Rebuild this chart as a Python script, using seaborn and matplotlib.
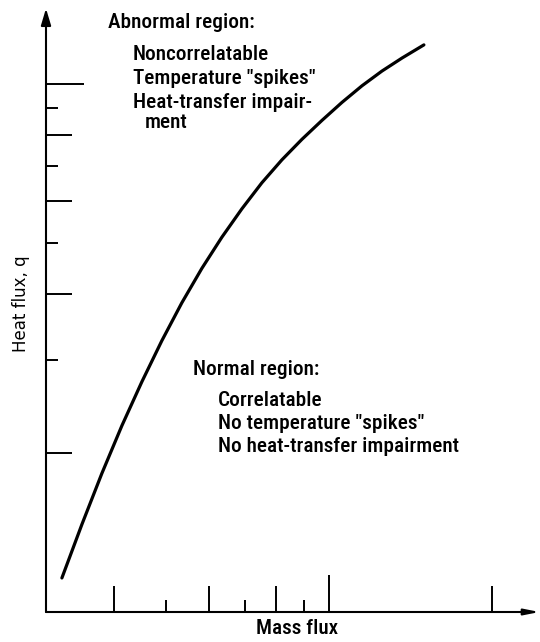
import matplotlib
matplotlib.use("Agg")
import matplotlib.pyplot as plt
import seaborn as sns
import pandas as pd

# Boundary curve between normal and abnormal heat-transfer regions
mass_flux = [3.21, 3.495, 3.805, 4.143, 4.511, 4.911, 5.348, 5.823, 6.340,
             6.904, 7.518, 8.186, 8.913, 9.707, 10.57, 11.51, 12.53, 13.65, 14.98]
heat_flux = [1.160, 1.465, 1.830, 2.253, 2.729, 3.264, 3.852, 4.475, 5.126,
             5.802, 6.501, 7.184, 7.855, 8.532, 9.229, 9.922, 10.58, 11.20, 11.86]

x_ticks_mid = [4, 6, 8, 10, 20]
x_ticks_short = [5, 7, 9]
y_ticks_mid = [2, 4, 6, 8, 10]
y_ticks_short = [3, 5, 7, 9]
long_tick = 10

abnormal_title = "Abnormal region:"
abnormal_lines = ["Noncorrelatable", 'Temperature "spikes"', "Heat-transfer impair-"]
abnormal_tail = "ment"
normal_title = "Normal region:"
normal_lines = ["Correlatable", 'No temperature "spikes"', "No heat-transfer impairment"]

sns.set_style("white")
plt.rcParams["font.family"] = ["Roboto Condensed", "Noto Sans Condensed", "Roboto", "DejaVu Sans"]
plt.rcParams["text.color"] = "black"
plt.rcParams["axes.labelcolor"] = "black"

W, H = 540, 642
fig = plt.figure(figsize=(W / 100, H / 100), dpi=100)
ax = fig.add_axes([46 / W, 30 / H, 493.5 / W, 603.5 / H])

df = pd.DataFrame({"Mass flux": mass_flux, "Heat flux": heat_flux})
sns.lineplot(data=df, x="Mass flux", y="Heat flux", color="black",
             linewidth=2.3, estimator=None, ax=ax)

ax.set_xscale("log")
ax.set_yscale("log")
ax.set_xlim(3, 24.5)
ax.set_ylim(1, 13.9)

for s in ax.spines.values():
    s.set_visible(False)

# axes drawn as arrows
ax.annotate("", xy=(1.0, 0), xytext=(0, 0), xycoords="axes fraction",
            arrowprops=dict(arrowstyle="-|>,head_length=0.9,head_width=0.18",
                            color="black", lw=1.5, shrinkA=0, shrinkB=0))
ax.annotate("", xy=(0, 1.0), xytext=(0, 0), xycoords="axes fraction",
            arrowprops=dict(arrowstyle="-|>,head_length=1.0,head_width=0.3",
                            color="black", lw=1.5, shrinkA=0, shrinkB=0))

ax.set_xticks(x_ticks_mid)
ax.set_xticks(x_ticks_short, minor=True)
ax.set_yticks(y_ticks_mid)
ax.set_yticks(y_ticks_short, minor=True)
for axis in (ax.xaxis, ax.yaxis):
    axis.set_major_formatter(matplotlib.ticker.NullFormatter())
    axis.set_minor_formatter(matplotlib.ticker.NullFormatter())
ax.tick_params(which="major", direction="in", length=18.5, width=1.4,
               color="black", bottom=True, left=True)
ax.tick_params(which="minor", direction="in", length=8.8, width=1.4,
               color="black", bottom=True, left=True)
for axis, ticks in ((ax.xaxis, x_ticks_mid), (ax.yaxis, y_ticks_mid)):
    for t, v in zip(axis.get_major_ticks(), ticks):
        if v == long_tick:
            t.tick1line.set_markersize(27)

ax.set_xlabel("Mass flux", fontsize=15.3, fontweight="medium")
ax.xaxis.set_label_coords((297 - 46) / 493.5, (612 - 629) / 603.5)
ax.xaxis.label.set_va("center")
ax.set_ylabel("Heat flux, q", fontsize=12, family="DejaVu Sans")
ax.yaxis.set_label_coords((21 - 46) / 493.5, (612 - 304) / 603.5)
ax.yaxis.label.set_va("center")

def put(x, y, s):
    fig.text(x / W, 1 - y / H, s, fontsize=15.3, fontweight="medium",
             ha="left", va="center")

put(108, 22, abnormal_title)
for i, s in enumerate(abnormal_lines):
    put(133, 54 + i * 24, s)
put(145, 122, abnormal_tail)
put(193, 370, normal_title)
for i, s in enumerate(normal_lines):
    put(218, 400 + i * 23.5, s)

fig.savefig("out.png", dpi=100)
